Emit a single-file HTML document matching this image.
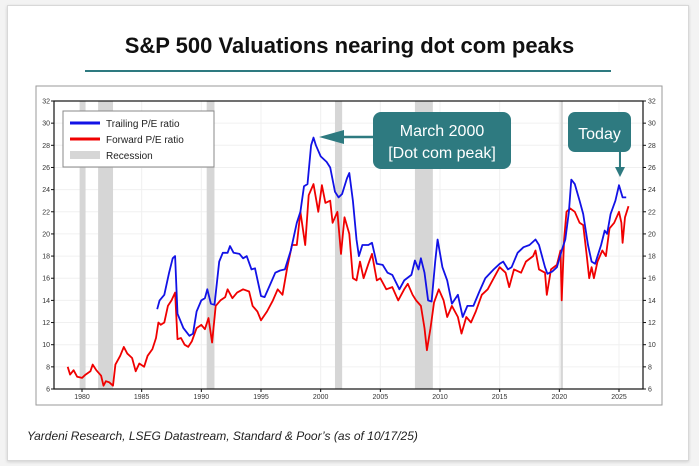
<!DOCTYPE html>
<html><head><meta charset="utf-8"><style>
html,body{margin:0;padding:0;background:#f3f3f3;}
#card{position:absolute;left:7px;top:5px;width:680px;height:454px;background:#fff;border:1px solid #d8d8d8;box-shadow:0 1px 3px rgba(0,0,0,.15);}
#title{position:absolute;left:0;top:33px;width:699px;text-align:center;font:bold 22px "Liberation Sans",sans-serif;color:#111;}
#rule{position:absolute;left:85px;top:70px;width:526px;height:2px;background:#2e7a80;}
#foot{position:absolute;left:27px;top:429px;font:italic 12px "Liberation Sans",sans-serif;color:#222;}
svg{position:absolute;left:0;top:0;}
</style></head><body>
<div id="card"></div>
<div id="title">S&amp;P 500 Valuations nearing dot com peaks</div>
<div id="rule"></div>
<div id="foot">Yardeni Research, LSEG Datastream, Standard &amp; Poor’s (as of 10/17/25)</div>
<svg id="chart" width="699" height="466"></svg>
<script>
const yTicks=[6,8,10,12,14,16,18,20,22,24,26,28,30,32];
const xTicks=[1980,1985,1990,1995,2000,2005,2010,2015,2020,2025];
const recessions=[[1979.8,1980.3],[1981.35,1982.6],[1990.45,1991.1],[2001.2,2001.8],[2007.9,2009.4],[2020.1,2020.3]];
const fwdYears=[1978.8,1979.0,1979.3,1979.6,1980.0,1980.3,1980.7,1980.9,1981.2,1981.6,1981.8,1982.0,1982.3,1982.6,1982.8,1983.2,1983.5,1983.8,1984.2,1984.5,1984.8,1985.2,1985.5,1985.9,1986.2,1986.4,1986.6,1986.9,1987.2,1987.5,1987.8,1988.0,1988.3,1988.6,1988.9,1989.2,1989.6,1990.0,1990.3,1990.6,1990.9,1991.2,1991.6,1992.0,1992.2,1992.6,1993.0,1993.5,1994.0,1994.3,1994.7,1995.0,1995.5,1996.0,1996.4,1996.8,1997.2,1997.6,1998.0,1998.3,1998.7,1999.0,1999.4,1999.8,2000.1,2000.4,2000.8,2001.0,2001.4,2001.7,2002.0,2002.4,2002.7,2003.0,2003.3,2003.6,2004.0,2004.3,2004.7,2005.0,2005.5,2006.0,2006.5,2007.0,2007.3,2007.7,2008.0,2008.4,2008.7,2008.9,2009.2,2009.5,2009.9,2010.3,2010.6,2011.0,2011.5,2011.8,2012.2,2012.6,2013.0,2013.5,2014.0,2014.5,2015.0,2015.5,2015.8,2016.2,2016.8,2017.2,2017.8,2018.0,2018.3,2018.8,2018.95,2019.3,2019.8,2020.1,2020.2,2020.4,2020.6,2020.9,2021.3,2021.7,2022.0,2022.3,2022.5,2022.7,2022.9,2023.2,2023.6,2023.9,2024.2,2024.6,2025.0,2025.2,2025.3,2025.5,2025.8];
const fwdValues=[8.0,7.3,7.7,7.1,7.0,7.3,7.6,8.2,7.7,7.2,6.3,6.7,6.6,6.3,8.2,9.0,9.8,9.2,8.8,7.6,8.3,8.0,9.0,9.6,10.6,12.0,11.8,12.0,13.5,14.0,14.7,10.5,10.6,10.0,9.8,10.3,11.5,11.8,11.4,12.4,10.2,13.5,14.0,14.3,15.0,14.2,14.7,15.0,14.8,13.5,13.0,12.2,13.0,14.0,15.0,14.5,17.0,19.0,19.0,22.0,19.0,23.5,24.5,22.0,24.4,22.8,23.0,21.0,22.0,18.2,21.5,20.0,16.0,15.8,17.5,16.0,17.3,18.2,15.8,16.0,15.0,15.2,14.0,15.0,15.5,14.5,14.0,13.5,11.5,9.5,11.5,13.8,15.0,14.0,12.5,13.5,12.5,11.0,12.5,12.0,13.0,14.5,15.0,16.0,17.0,16.5,15.2,16.8,16.5,17.5,18.0,18.5,16.8,16.5,14.5,16.8,17.2,18.5,14.0,19.5,22.0,22.3,22.0,21.0,20.8,18.0,16.0,17.0,16.0,17.5,18.5,18.0,20.5,21.0,22.0,21.0,19.2,21.5,22.5];
const trlYears=[1986.3,1986.5,1986.9,1987.3,1987.6,1987.8,1988.0,1988.5,1989.0,1989.3,1989.6,1990.0,1990.3,1990.5,1990.8,1991.1,1991.5,1991.8,1992.2,1992.4,1992.7,1993.2,1993.5,1993.8,1994.2,1994.5,1995.0,1995.3,1995.8,1996.2,1996.6,1997.0,1997.5,1998.0,1998.3,1998.6,1998.9,1999.2,1999.4,1999.6,2000.0,2000.5,2000.8,2001.2,2001.5,2001.8,2002.2,2002.4,2002.7,2003.0,2003.2,2003.5,2004.0,2004.3,2004.7,2005.2,2005.6,2006.0,2006.6,2007.0,2007.6,2007.9,2008.2,2008.4,2008.7,2009.0,2009.3,2009.6,2009.8,2010.2,2010.6,2011.0,2011.5,2011.9,2012.3,2012.8,2013.3,2013.8,2014.5,2015.0,2015.3,2015.7,2016.0,2016.5,2017.0,2017.5,2018.0,2018.3,2018.8,2019.0,2019.4,2019.8,2020.2,2020.5,2020.8,2021.0,2021.3,2021.7,2022.0,2022.4,2022.7,2023.0,2023.5,2023.8,2024.0,2024.3,2024.7,2025.0,2025.3,2025.6];
const trlValues=[13.2,14.0,14.5,16.5,17.8,18.0,12.8,11.5,10.8,11.0,13.0,14.0,14.2,15.0,13.7,13.6,17.5,18.3,18.3,18.9,18.3,18.2,17.8,18.0,16.8,16.9,14.4,14.3,15.5,16.5,16.7,16.8,18.5,21.0,22.0,24.3,24.5,28.0,28.7,28.0,27.0,26.5,26.0,23.8,23.3,23.6,25.0,25.5,23.0,19.5,18.0,19.0,19.0,19.2,17.3,17.2,16.5,16.3,15.0,15.8,16.3,17.6,16.8,17.8,16.5,14.0,13.9,17.5,19.5,17.0,15.8,13.7,14.5,12.5,13.5,13.5,14.8,16.0,16.8,17.3,17.5,16.8,17.0,18.3,18.8,19.0,19.5,19.0,17.0,16.4,16.6,17.0,18.5,19.5,22.0,24.9,24.5,23.0,21.8,19.0,17.5,17.3,19.0,20.3,20.0,21.8,23.0,24.4,23.3,23.3];

const NS='http://www.w3.org/2000/svg';
const svg=document.getElementById('chart');
const L=54,R=643,T=101,B=389;
const x=v=>82+(v-1980)*(619-82)/45;
const y=v=>B-(v-6)*(B-T)/26;
function mk(tag,attrs,parent){const e=document.createElementNS(NS,tag);for(const k in attrs)e.setAttribute(k,attrs[k]);(parent||svg).appendChild(e);return e;}

const frame=mk('rect',{x:36,y:86,width:626,height:319,fill:'#fff',stroke:'#9a9a9a','stroke-width':1});


for(const t of xTicks){const g=mk('line',{x1:x(t),x2:x(t),y1:T,y2:B,stroke:'#f0f0f0'});}
for(const t of yTicks){const g=mk('line',{x1:L,x2:R,y1:y(t),y2:y(t),stroke:'#f0f0f0'});}
for(const r of recessions){const b=mk('rect',{x:x(r[0]),y:T,width:Math.max(2,x(r[1])-x(r[0])),height:B-T,fill:'#d6d6d6'});}
const plot=mk('rect',{x:L,y:T,width:R-L,height:B-T,fill:'none',stroke:'#111','stroke-width':1.2});


for(const t of yTicks){
 const a=mk('text',{x:L-4,y:y(t)+2.5,'text-anchor':'end','font-size':7,'font-family':'Liberation Sans, sans-serif',fill:'#333'});a.textContent=t;
 
 const b=mk('text',{x:R+5,y:y(t)+2.5,'font-size':7,'font-family':'Liberation Sans, sans-serif',fill:'#333'});b.textContent=t;
 
 mk('line',{x1:L-3,x2:L,y1:y(t),y2:y(t),stroke:'#111'});mk('line',{x1:R,x2:R+3,y1:y(t),y2:y(t),stroke:'#111'});
}
for(const t of xTicks){
 const a=mk('text',{x:x(t),y:B+10,'text-anchor':'middle','font-size':7,'font-family':'Liberation Sans, sans-serif',fill:'#333'});a.textContent=t;
 
 mk('line',{x1:x(t),x2:x(t),y1:B,y2:B+3,stroke:'#111'});
}
function line(xs,vs,col,name){const d=xs.map((v,i)=>(i?'L':'M')+x(v).toFixed(1)+','+y(vs[i]).toFixed(1)).join('');const p=mk('path',{d:d,fill:'none',stroke:col,'stroke-width':1.8,'stroke-linejoin':'round'});}
line(fwdYears,fwdValues,'#f00000','forward-pe-line');
line(trlYears,trlValues,'#1212e6','trailing-pe-line');

const lg=mk('g',{});
mk('rect',{x:63,y:111,width:151,height:56,fill:'#fff',stroke:'#888'},lg);
const items=[['Trailing P/E ratio','#1212e6',3],['Forward P/E ratio','#f00000',3],['Recession','#d6d6d6',8]];
items.forEach((it,i)=>{const yy=123+i*16;mk('line',{x1:70,x2:100,y1:yy,y2:yy,stroke:it[1],'stroke-width':it[2]},lg);const t=mk('text',{x:106,y:yy+4,'font-size':10,'font-family':'Liberation Sans, sans-serif',fill:'#222'},lg);t.textContent=it[0];});

const teal='#2e7a80';
mk('line',{x1:338,x2:374,y1:137,y2:137,stroke:teal,'stroke-width':2.5});
mk('polygon',{points:'319,137 344,130 344,144',fill:teal});
const b1=mk('rect',{x:373,y:112,width:138,height:57,rx:8,fill:teal});
const t1=mk('text',{x:442,y:136,'text-anchor':'middle','font-size':16,'font-family':'Liberation Sans, sans-serif',fill:'#fff'});t1.textContent='March 2000';
const t2=mk('text',{x:442,y:158,'text-anchor':'middle','font-size':16,'font-family':'Liberation Sans, sans-serif',fill:'#fff'});t2.textContent='[Dot com peak]';
const b2=mk('rect',{x:568,y:112,width:63,height:40,rx:7,fill:teal});
const t3=mk('text',{x:599.5,y:139,'text-anchor':'middle','font-size':16,'font-family':'Liberation Sans, sans-serif',fill:'#fff'});t3.textContent='Today';
mk('line',{x1:620,x2:620,y1:152,y2:168,stroke:teal,'stroke-width':2});
mk('polygon',{points:'620,177 615,167 625,167',fill:teal});
</script>
</body></html>
